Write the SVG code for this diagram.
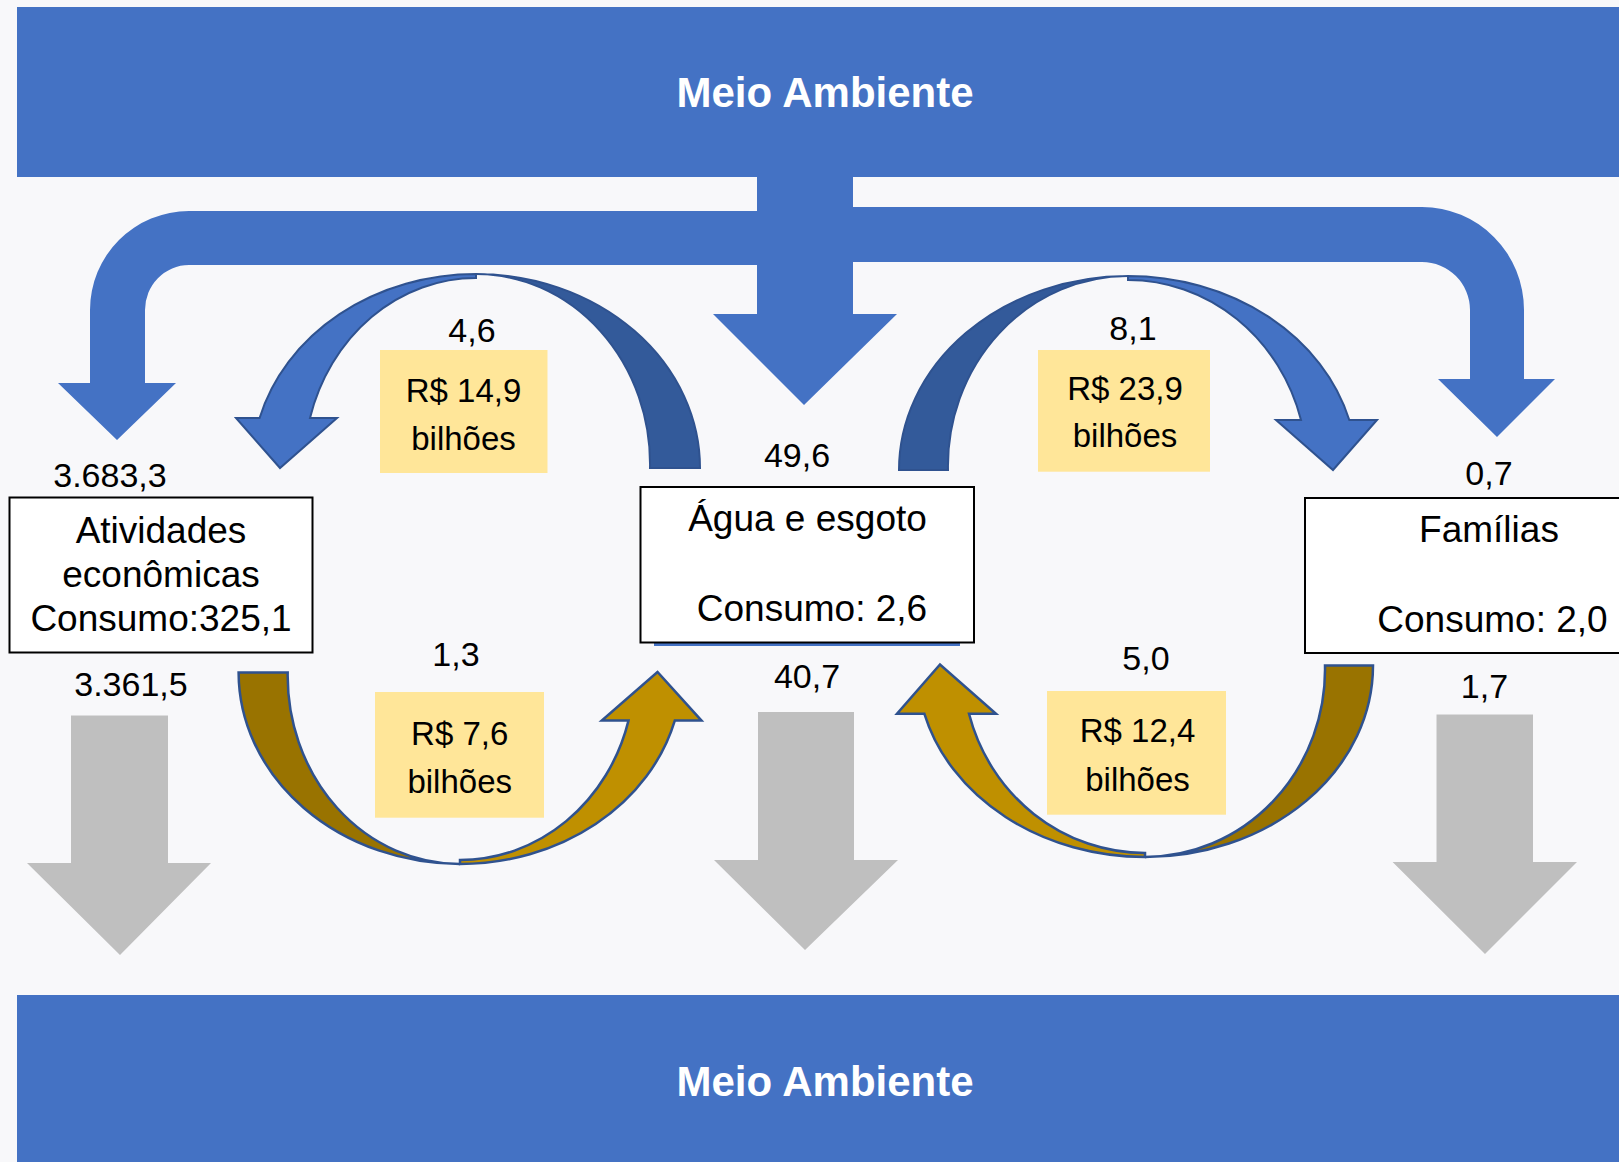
<svg xmlns="http://www.w3.org/2000/svg" width="1619" height="1162" viewBox="0 0 1619 1162">
<style>
.bg{fill:#F8F8FA}
.banner{fill:#4472C4}
.bt{font-family:"Liberation Sans",Arial,sans-serif;font-weight:bold;font-size:42px;fill:#FFFFFF;text-anchor:middle}
.node{fill:#FFFFFF;stroke:#000000;stroke-width:2}
.nt{font-family:"Liberation Sans",Arial,sans-serif;font-size:37px;fill:#000000;text-anchor:middle}
.num{font-family:"Liberation Sans",Arial,sans-serif;font-size:34px;fill:#000000;text-anchor:middle}
.val{font-family:"Liberation Sans",Arial,sans-serif;font-size:33px;fill:#000000;text-anchor:middle}
.ybox{fill:#FFE699}
.flow{fill:#4472C4}
.gray{fill:#BFBFBF}
.bl{fill:#4472C4;stroke:#2F528F;stroke-width:2;stroke-linejoin:miter}
.bd{fill:#335A9A;stroke:#2F528F;stroke-width:2}
.gl{fill:#BF9000;stroke:#2F528F;stroke-width:2.5;stroke-linejoin:miter}
.gd{fill:#997300;stroke:#2F528F;stroke-width:2.5}
</style>
<rect class="bg" x="0" y="0" width="1619" height="1162"/>

<g id="meio-ambiente-top">
<rect class="banner" x="17" y="7" width="1610" height="170"/>
<text class="bt" x="825" y="107">Meio Ambiente</text>
</g>

<g id="meio-ambiente-bottom">
<rect class="banner" x="17" y="995" width="1610" height="175"/>
<text class="bt" x="825" y="1096">Meio Ambiente</text>
</g>

<g id="connectors">
<path class="flow" d="M757 176 L757 211 L189 211 A99 99 0 0 0 90 310 L90 383 L58 383 L117 440 L176 383 L145 383 L145 310 A44 45 0 0 1 189 265 L757 265 L757 314 L713 314 L804 405 L897 314 L853 314 L853 262 L1422 262 A48 48 0 0 1 1470 310 L1470 379 L1438 379 L1497 437 L1555 379 L1524 379 L1524 310 A102 103 0 0 0 1422 207 L853 207 L853 176 Z"/>

<polygon class="gray" points="71,715.5 168,715.5 168,863 211,863 120,955 27,863 71,863"/>
<polygon class="gray" points="758,712 854,712 854,860 898,860 805,950 714,860 758,860"/>
<polygon class="gray" points="1436.5,714.5 1533,714.5 1533,862 1577,862 1485,954 1392.6,862 1436.5,862"/>

<path class="bd" d="M700 468 A224 194 0 0 0 476 274 A174 190 0 0 1 650 468 Z"/>
<path class="bl" d="M476 274 A224 194 0 0 0 259.6 418 L236 418 L280 468 L337 418 L310 418 A172 190 0 0 1 476 278 Z"/>

<path class="bd" d="M899 470 A229 194 0 0 1 1128 276 A180 190 0 0 0 948 470 Z"/>
<path class="bl" d="M1128 276 A229 194 0 0 1 1349.3 420 L1377 420 L1333 470 L1276 420 L1301 420 A179.3 190 0 0 0 1128 280 Z"/>

<path class="gd" d="M238.6 672.4 A222 192 0 0 0 460 864 A172 188 0 0 1 287.7 672.4 Z"/>
<path class="gl" d="M460 864 A222 192 0 0 0 674.8 720.6 L701.5 720.6 L657.5 672 L601.8 720.6 L628.5 720.6 A174.4 188 0 0 1 460 860 Z"/>

<path class="gd" d="M1373 665.5 A228 191.5 0 0 1 1145 857 A180 187.5 0 0 0 1325 665.5 Z"/>
<path class="gl" d="M1145 857 A228 191.5 0 0 1 924.4 713.8 L897 713.8 L940 664.5 L996 713.8 L969 713.8 A182.2 187.5 0 0 0 1145 853 Z"/>

<line x1="654" y1="644.5" x2="960" y2="644.5" stroke="#4472C4" stroke-width="3"/>
</g>

<g id="atividades">
<rect class="node" x="9.5" y="497.5" width="303" height="155"/>
<text class="nt" x="161" y="543">Atividades</text>
<text class="nt" x="161" y="587">econômicas</text>
<text class="nt" x="161" y="631">Consumo:325,1</text>
</g>

<g id="agua-esgoto">
<rect class="node" x="640.5" y="487" width="333.5" height="155.5"/>
<text class="nt" x="807.5" y="531">Água e esgoto</text>
<text class="nt" x="812" y="621">Consumo: 2,6</text>
</g>

<g id="familias">
<rect class="node" x="1305" y="498" width="330" height="155"/>
<text class="nt" x="1489" y="542">Famílias</text>
<text class="nt" x="1492.5" y="632">Consumo: 2,0</text>
</g>

<g id="valor-14-9">
<rect class="ybox" x="380" y="350" width="167.5" height="123"/>
<text class="val" x="463.5" y="402">R$ 14,9</text>
<text class="val" x="463.5" y="450">bilhões</text>
</g>
<g id="valor-23-9">
<rect class="ybox" x="1038" y="350" width="172" height="121.7"/>
<text class="val" x="1125" y="400">R$ 23,9</text>
<text class="val" x="1125" y="447">bilhões</text>
</g>
<g id="valor-7-6">
<rect class="ybox" x="375" y="692" width="169" height="125.7"/>
<text class="val" x="459.7" y="745">R$ 7,6</text>
<text class="val" x="459.7" y="793">bilhões</text>
</g>
<g id="valor-12-4">
<rect class="ybox" x="1047" y="691" width="179" height="123.7"/>
<text class="val" x="1137.5" y="742">R$ 12,4</text>
<text class="val" x="1137.5" y="791">bilhões</text>
</g>

<g id="labels">
<text class="num" x="110" y="487">3.683,3</text>
<text class="num" x="131" y="695.5">3.361,5</text>
<text class="num" x="472" y="342">4,6</text>
<text class="num" x="456" y="665.5">1,3</text>
<text class="num" x="797" y="467">49,6</text>
<text class="num" x="807" y="688">40,7</text>
<text class="num" x="1133" y="340">8,1</text>
<text class="num" x="1146" y="670">5,0</text>
<text class="num" x="1489" y="485">0,7</text>
<text class="num" x="1484.5" y="697.6">1,7</text>
</g>
</svg>
